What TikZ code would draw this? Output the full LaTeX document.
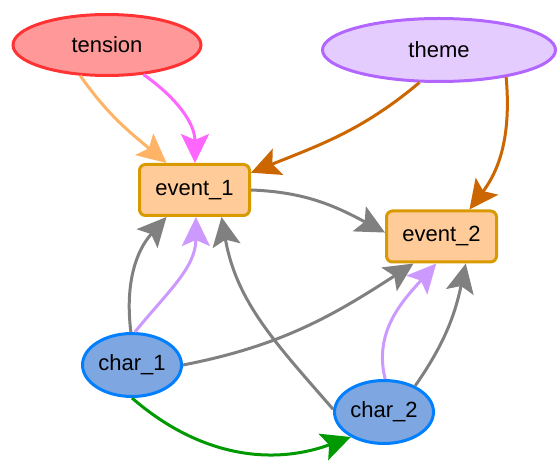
\documentclass[tikz,border=0pt]{standalone}
\usepackage{fontspec}
\setmainfont{Liberation Sans}
\usetikzlibrary{shapes.geometric, arrows.meta, positioning}

\definecolor{tensionfill}{HTML}{FF9999}
\definecolor{tensionline}{HTML}{FF3333}
\definecolor{themefill}{HTML}{E5CCFF}
\definecolor{themeline}{HTML}{B266FF}
\definecolor{eventfill}{HTML}{FFCC99}
\definecolor{eventline}{HTML}{D99A00}
\definecolor{charfill}{HTML}{7EA6E0}
\definecolor{charline}{HTML}{007FFF}
\definecolor{linkorange}{HTML}{FFB366}
\definecolor{linkpink}{HTML}{FF66FF}
\definecolor{linkbrown}{HTML}{CC6600}
\definecolor{linkgray}{HTML}{808080}
\definecolor{linklilac}{HTML}{CC99FF}
\definecolor{linkgreen}{HTML}{009900}

\begin{document}
\begin{tikzpicture}[
        x=1pt, y=1pt,
        font=\fontsize{22}{26}\selectfont,
        % Estilos dos nos
        topicbox/.style={ellipse, line width=3pt, inner sep=0pt},
        eventbox/.style={rectangle, draw=eventline, fill=eventfill, line width=3pt, rounded corners=6pt, minimum width=110pt, minimum height=51pt, inner sep=0pt},
        charbox/.style={ellipse, draw=charline, fill=charfill, line width=3pt, minimum width=99pt, minimum height=63pt, inner sep=0pt},
        arrow/.style={-{Stealth[length=29pt, width=28pt, inset=6pt]}, line width=3pt}
    ]
    \useasboundingbox (0,0) rectangle (558,464);

    % Temas
    \node (tension) [topicbox, draw=tensionline, fill=tensionfill, minimum width=188pt, minimum height=61pt] at (107,419) {tension};
    \node (theme) [topicbox, draw=themeline, fill=themefill, minimum width=233pt, minimum height=63pt] at (439,414) {theme};

    % Eventos
    \node (event1) [eventbox] at (194.5,274) {event\_1};
    \node (event2) [eventbox] at (441.5,227.5) {event\_2};

    % Personagens
    \node (char1) [charbox] at (132,99) {char\_1};
    \node (char2) [charbox] at (384,52) {char\_2};

    % Setas dos temas
    \draw [arrow, linkorange] (tension.-131) to[out=-55, in=140] (event1.136);
    \draw [arrow, linkpink] (tension.-39) to[out=-35, in=90] (event1.89);
    \draw [arrow, linkbrown] (theme.-121) to[out=-140, in=22] (event1.17);
    \draw [arrow, linkbrown] (theme.-22) to[out=-85, in=53] (event2.44);

    % Evento -> evento
    \draw [arrow, linkgray] (event1.east) to[out=-2, in=152] (event2.176);

    % Setas dos personagens
    \draw [arrow, linkgray] (char1.92) to[out=97, in=-132] (event1.-136);
    \draw [arrow, linklilac] (char1.85) to[out=51, in=-90] (event1.-87);
    \draw [arrow, linkgray] (char2.177) to[out=131, in=-80] (event1.-45);
    \draw [arrow, linkgray] (char1.east) to[out=11, in=-147] (event2.-136);
    \draw [arrow, linklilac] (char2.88) to[out=104, in=-132] (event2.-101);
    \draw [arrow, linkgray] (char2.40) to[out=55, in=-102] (event2.-48);
    \draw [arrow, linkgreen] (char1.south) to[out=-41, in=200] (char2.-143);

\end{tikzpicture}
\end{document}
